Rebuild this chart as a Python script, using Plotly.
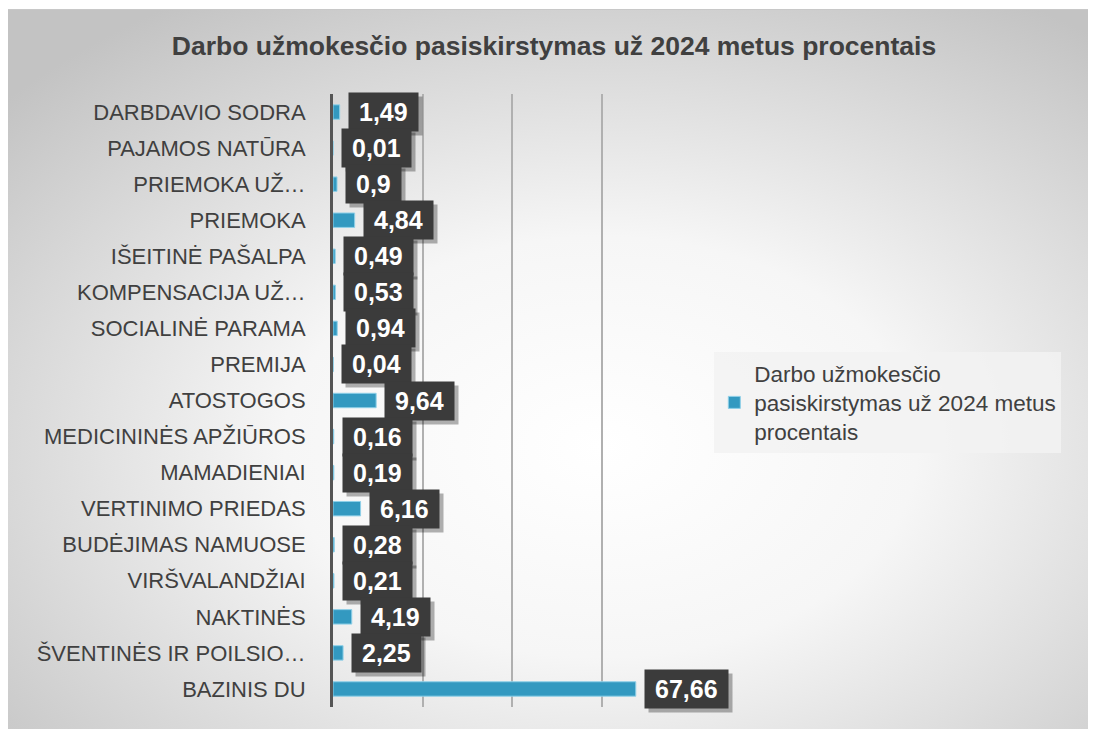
import base64
import plotly.graph_objects as go

categories = ["DARBDAVIO SODRA", "PAJAMOS NATŪRA", "PRIEMOKA UŽ…", "PRIEMOKA",
              "IŠEITINĖ PAŠALPA", "KOMPENSACIJA UŽ…", "SOCIALINĖ PARAMA", "PREMIJA",
              "ATOSTOGOS", "MEDICININĖS APŽIŪROS", "MAMADIENIAI", "VERTINIMO PRIEDAS",
              "BUDĖJIMAS NAMUOSE", "VIRŠVALANDŽIAI", "NAKTINĖS", "ŠVENTINĖS IR POILSIO…",
              "BAZINIS DU"]
values = [1.49, 0.01, 0.9, 4.84, 0.49, 0.53, 0.94, 0.04, 9.64, 0.16, 0.19, 6.16,
          0.28, 0.21, 4.19, 2.25, 67.66]
value_labels = [f"{v:g}".replace(".", ",") for v in values]
series_name = "Darbo užmokesčio<br>pasiskirstymas už 2024 metus<br>procentais"
title = "Darbo užmokesčio pasiskirstymas už 2024 metus procentais"

# the page body has an 8px margin, so all pixel spots are shifted by it
OFF = 8
W, H = 1096 - OFF, 729 - OFF
L, R, T, B = 333 - OFF, 690.7 - OFF, 94 - OFF, 707 - OFF  # plot area
pw, ph = R - L, B - T
FONT = "Liberation Sans, Arial"

fig = go.Figure()
fig.add_trace(go.Bar(
    x=values, y=categories, orientation="h", name=series_name,
    marker=dict(color="#3399c0", line=dict(color="#8fd0e8", width=1)),
    width=0.4, showlegend=True,
))

# data labels: dark box with a shadow behind it
pad = "\u2009"
for v, c, t in zip(values, categories, value_labels):
    fig.add_annotation(x=v, y=c, text="<b>" + pad + t + pad + "</b>", xanchor="left",
                       showarrow=False, xshift=12, yshift=-4,
                       bgcolor="rgba(0,0,0,0.3)",
                       font=dict(size=25, color="rgba(0,0,0,0)", family=FONT),
                       borderpad=5)
    fig.add_annotation(x=v, y=c, text="<b>" + pad + t + pad + "</b>", xanchor="left",
                       showarrow=False, xshift=8, bgcolor="#3b3b3b",
                       font=dict(size=25, color="white", family=FONT),
                       borderpad=5)

svg = ('<svg xmlns="http://www.w3.org/2000/svg" width="1000" height="1000" '
       'preserveAspectRatio="none" viewBox="0 0 1000 1000">'
       '<defs><radialGradient id="g" cx="0.54" cy="0.6" r="0.72">'
       '<stop offset="0" stop-color="#ffffff"/><stop offset="0.4" stop-color="#f6f6f6"/>'
       '<stop offset="1" stop-color="#c3c3c3"/></radialGradient></defs>'
       '<rect width="1000" height="1000" fill="url(#g)"/></svg>')
src = "data:image/svg+xml;base64," + base64.b64encode(svg.encode()).decode()

fx0, fy0 = 7 - OFF, 9 - OFF
fig.add_layout_image(source=src, xref="paper", yref="paper",
                     x=(fx0 - L) / pw, y=1 + (T - fy0) / ph,
                     sizex=(W + 10 - fx0) / pw, sizey=(H + 10 - fy0) / ph,
                     xanchor="left", yanchor="top", sizing="stretch", layer="below")
fig.add_shape(type="rect", xref="paper", yref="paper",
              x0=(fx0 + 0.5 - L) / pw, y0=-(H + 5 - B) / ph,
              x1=(W + 5 - L) / pw, y1=1 + (T - fy0 - 0.5) / ph,
              line=dict(color="#c8c8c8", width=1), layer="below")

fig.update_layout(
    width=W, height=H,
    margin=dict(l=L, r=W - R, t=T, b=H - B),
    paper_bgcolor="white", plot_bgcolor="rgba(0,0,0,0)",
    font=dict(family=FONT, color="#404040"),
    title=dict(text="<b>" + title + "</b>", x=(554 - OFF) / W, xref="container",
               xanchor="center", y=1 - (46 - OFF) / H, yref="container", yanchor="middle",
               font=dict(size=26.5, color="#404040")),
    legend=dict(x=(714 - OFF - L) / pw, xanchor="left", y=1 - (352 - OFF - T) / ph,
                yanchor="top", bgcolor="rgba(242,242,242,0.85)",
                font=dict(size=22.5, color="#404040"), itemwidth=30),
)
fig.update_xaxes(range=[0, 80], dtick=20, showgrid=True, gridcolor="#b0b0b0", gridwidth=1.5,
                 showticklabels=False, zeroline=False, showline=False, fixedrange=True)
fig.update_yaxes(range=[len(categories) - 0.5, -0.5], showgrid=False, showline=True,
                 linecolor="#555555", linewidth=3, ticks="",
                 tickfont=dict(size=22, color="#404040"),
                 ticklabelstandoff=20, fixedrange=True)

fig.write_html("out.html")
